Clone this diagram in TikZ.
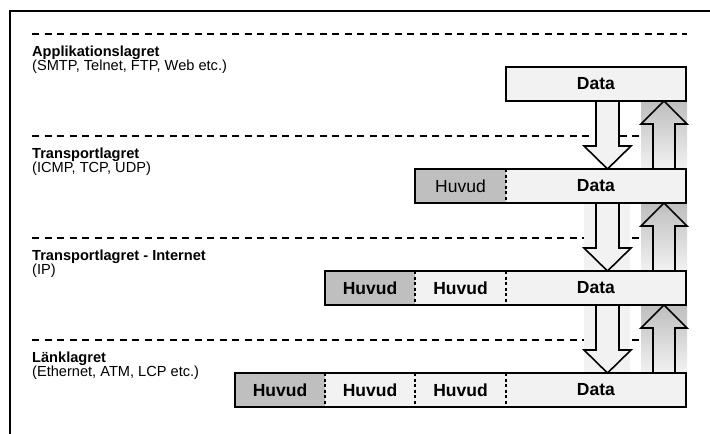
\documentclass[tikz,border=0pt]{standalone}
\usepackage{fontspec}
\setmainfont{Liberation Sans}
\usetikzlibrary{calc}
\definecolor{hdgray}{RGB}{191,191,191}
\definecolor{lightfill}{RGB}{242,242,242}
\definecolor{gradtop}{RGB}{190,190,190}
\definecolor{gradbot}{RGB}{242,242,242}
\newcommand\blockdown[2]{%
  \filldraw[arrowline,fill=lightfill] ($(#1)+(-11.5,0)$) -- ($(#2)+(-11.5,-23)$) -- ($(#2)+(-23.5,-23)$) -- (#2) -- ($(#2)+(23.5,-23)$) -- ($(#2)+(11.5,-23)$) -- ($(#1)+(11.5,0)$);}
\newcommand\blockup[2]{%
  \draw[arrowline] ($(#1)+(-11,0)$) -- ($(#2)+(-11,23)$) -- ($(#2)+(-23,23)$) -- (#2) -- ($(#2)+(23,23)$) -- ($(#2)+(11,23)$) -- ($(#1)+(11,0)$);}
\begin{document}
\begin{tikzpicture}[x=1pt,y=-1pt,
  seg/.style={minimum height=34pt,inner sep=0pt,outer sep=0pt,anchor=north west,font=\fontsize{17.5}{20}\selectfont},
  hd/.style={seg,fill=hdgray},
  lt/.style={seg,fill=lightfill},
  boxline/.style={draw=black,line width=1.8pt},
  divider/.style={draw=black,line width=1.5pt,dash pattern=on 3pt off 2.5pt},
  layerline/.style={draw=black,line width=2pt,dash pattern=on 7pt off 5.5pt},
  layertext/.style={anchor=north west,inner sep=0pt,align=left,font=\fontsize{14.6}{12.5}\selectfont},
  arrowline/.style={draw=black,line width=1.6pt,line join=miter},
  frame/.style={draw=black,line width=2pt}]
\useasboundingbox (0,0) rectangle (710,434);
% frame
\draw[frame] (10,434) -- (10,11) -- (710,11);
% layer separators
\foreach \yy in {33.5,135.5,237.5,339.5}{\draw[layerline] (32,\yy) -- (687,\yy);}
% labels
\node[layertext] (l1) at (32,45.5) {\textbf{Applikationslagret}\\(SMTP, Telnet, FTP, Web etc.)};
\node[layertext] (l2) at (32,147.5) {\textbf{Transportlagret}\\(ICMP, TCP, UDP)};
\node[layertext] (l3) at (32,249.5) {\textbf{Transportlagret - Internet}\\(IP)};
\node[layertext] (l4) at (32,351.5) {\textbf{Länklagret}\\(Ethernet, ATM, LCP etc.)};
% boxes
\node[lt,minimum width=180pt] (app) at (506,67) {\textbf{Data}};
\node[hd,minimum width=91pt] (trh) at (415,169) {Huvud};
\node[lt,minimum width=180pt] (trd) at (506,169) {\textbf{Data}};
\node[hd,minimum width=90pt] (inh1) at (325,271) {\textbf{Huvud}};
\node[lt,minimum width=91pt] (inh2) at (415,271) {\textbf{Huvud}};
\node[lt,minimum width=180pt] (ind) at (506,271) {\textbf{Data}};
\node[hd,minimum width=90pt] (lkh1) at (235,373) {\textbf{Huvud}};
\node[lt,minimum width=90pt] (lkh2) at (325,373) {\textbf{Huvud}};
\node[lt,minimum width=91pt] (lkh3) at (415,373) {\textbf{Huvud}};
\node[lt,minimum width=180pt] (lkd) at (506,373) {\textbf{Data}};
% dividers
\draw[divider] (trh.north east) -- (trh.south east);
\draw[divider] (inh1.north east) -- (inh1.south east);
\draw[divider] (inh2.north east) -- (inh2.south east);
\draw[divider] (lkh1.north east) -- (lkh1.south east);
\draw[divider] (lkh2.north east) -- (lkh2.south east);
\draw[divider] (lkh3.north east) -- (lkh3.south east);
% arrow columns
\coordinate (dcol) at (607.5,0);
\coordinate (ucol) at (664,0);
% backgrounds
\fill[lightfill] ($(trd.south -| dcol)+(-23.5,0)$) rectangle ($(ind.north -| dcol)+(22.5,0)$);
\fill[lightfill] ($(ind.south -| dcol)+(-23.5,0)$) rectangle ($(lkd.north -| dcol)+(22.5,0)$);
\shade[top color=gradtop,bottom color=gradbot] ($(app.south -| ucol)+(-23,0)$) rectangle ($(trd.north -| ucol)+(23,0)$);
\shade[top color=gradtop,bottom color=gradbot] ($(trd.south -| ucol)+(-23,0)$) rectangle ($(ind.north -| ucol)+(23,0)$);
\shade[top color=gradtop,bottom color=gradbot] ($(ind.south -| ucol)+(-23,0)$) rectangle ($(lkd.north -| ucol)+(23,0)$);
% down arrows
\coordinate (d1s) at (app.south -| dcol); \coordinate (d1e) at (trd.north -| dcol);
\coordinate (d2s) at (trd.south -| dcol); \coordinate (d2e) at (ind.north -| dcol);
\coordinate (d3s) at (ind.south -| dcol); \coordinate (d3e) at (lkd.north -| dcol);
\blockdown{d1s}{d1e}
\blockdown{d2s}{d2e}
\blockdown{d3s}{d3e}
% up arrows
\coordinate (u1s) at (trd.north -| ucol); \coordinate (u1e) at (app.south -| ucol);
\coordinate (u2s) at (ind.north -| ucol); \coordinate (u2e) at (trd.south -| ucol);
\coordinate (u3s) at (lkd.north -| ucol); \coordinate (u3e) at (ind.south -| ucol);
\blockup{u1s}{u1e}
\blockup{u2s}{u2e}
\blockup{u3s}{u3e}
% box outlines on top
\draw[boxline] (app.north west) rectangle (app.south east);
\draw[boxline] (trh.north west) rectangle (trd.south east);
\draw[boxline] (inh1.north west) rectangle (ind.south east);
\draw[boxline] (lkh1.north west) rectangle (lkd.south east);
\end{tikzpicture}
\end{document}
